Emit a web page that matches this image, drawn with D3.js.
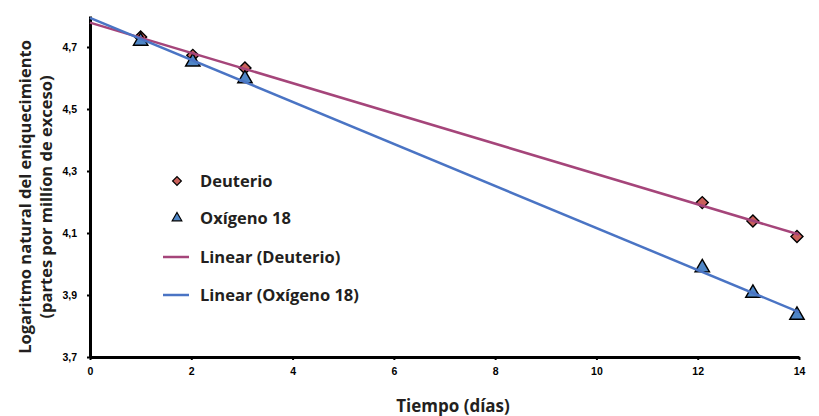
<!DOCTYPE html>
<html>
<head>
<meta charset="utf-8">
<script src="https://cdn.jsdelivr.net/npm/d3@7"></script>
<style>
  body { margin: 0; background: #fff; }
  text { fill: #231f20; }
  .tick-label { font-family: "Liberation Sans", Arial, sans-serif; font-weight: bold; font-size: 10.5px; fill: #000; }
  .title { font-family: "Open Sans", sans-serif; font-weight: 700; }
</style>
</head>
<body>
<div id="viz"></div>
<script>
// days of measurement
const dias = [1, 2.03, 3.06, 12.09, 13.09, 13.96];
// ln of enrichment, ppm excess
const deuterio = [4.732, 4.673, 4.632, 4.198, 4.139, 4.089];
const oxigeno18 = [4.719, 4.652, 4.598, 3.988, 3.906, 3.835];
const xTicks = [0, 2, 4, 6, 8, 10, 12, 14];
const yTicks = [3.7, 3.9, 4.1, 4.3, 4.5, 4.7];

/**
 * least squares fit, returns [slope, intercept]
 */
function linearFit(xs, ys) {
  const mx = d3.mean(xs);
  const my = d3.mean(ys);
  let sxy = 0, sxx = 0;
  xs.forEach((x, i) => {
    sxy += (x - mx) * (ys[i] - my);
    sxx += (x - mx) * (x - mx);
  });
  const slope = sxy / sxx;
  return [slope, my - slope * mx];
}

function createChart() {
  const width = 819;
  const height = 416;
  const left = 90, right = 799, top = 16, bottom = 357;

  const svg = d3.select("#viz")
    .append("svg")
    .attr("width", width)
    .attr("height", height);

  const x = d3.scaleLinear().domain([0, 14]).range([left, right]);
  const y = d3.scaleLinear().domain([3.7, 4.8]).range([bottom, top]);

  // x axis
  const xAxis = svg.append("g")
    .attr("transform", `translate(0,${bottom})`)
    .call(d3.axisBottom(x).tickValues(xTicks).tickSize(3).tickPadding(8).tickSizeOuter(0));
  xAxis.select(".domain").attr("stroke", "#000").attr("stroke-width", 3);
  xAxis.selectAll(".tick line").attr("stroke", "#000").attr("stroke-width", 2);
  xAxis.selectAll(".tick text").attr("class", "tick-label");

  // y axis
  const yAxis = svg.append("g")
    .attr("transform", `translate(${left},0)`)
    .call(d3.axisLeft(y).tickValues(yTicks).tickSize(3).tickPadding(10).tickSizeOuter(0)
      .tickFormat((d) => d3.format(".1f")(d).replace(".", ",")));
  yAxis.select(".domain").attr("stroke", "#000").attr("stroke-width", 3);
  yAxis.selectAll(".tick line").attr("stroke", "#000").attr("stroke-width", 2);
  yAxis.selectAll(".tick text").attr("class", "tick-label");

  const diamond = d3.symbol().type(d3.symbolSquare).size(72);
  const triangle = d3.symbol().type(d3.symbolTriangle).size(90);

  // markers
  svg.selectAll("path.deut")
    .data(dias)
    .enter()
    .append("path")
    .classed("deut", true)
    .attr("d", diamond)
    .attr("transform", (d, i) => `translate(${x(d)},${y(deuterio[i])}) rotate(45)`)
    .attr("fill", "#c9605a")
    .attr("stroke", "#000")
    .attr("stroke-width", 1.4);

  svg.selectAll("path.oxi")
    .data(dias)
    .enter()
    .append("path")
    .classed("oxi", true)
    .attr("d", triangle)
    .attr("transform", (d, i) => `translate(${x(d)},${y(oxigeno18[i])})`)
    .attr("fill", "#4f86c6")
    .attr("stroke", "#000")
    .attr("stroke-width", 1.4);

  // trend lines
  const fits = [
    { ys: deuterio, color: "#a5457a" },
    { ys: oxigeno18, color: "#4a74c4" },
  ];
  fits.forEach((f) => {
    const [m, b] = linearFit(dias, f.ys);
    svg.append("line")
      .attr("x1", x(0))
      .attr("y1", y(b))
      .attr("x2", x(14))
      .attr("y2", y(b + m * 14))
      .attr("stroke", f.color)
      .attr("stroke-width", 2.5);
  });

  // legend
  const legend = svg.append("g").attr("class", "title").style("font-size", "16.5px");
  legend.append("path").attr("d", d3.symbol().type(d3.symbolSquare).size(38))
    .attr("transform", "translate(177,181) rotate(45)")
    .attr("fill", "#c9605a").attr("stroke", "#000").attr("stroke-width", 1.2);
  legend.append("text").attr("x", 200).attr("y", 187).text("Deuterio");
  legend.append("path").attr("d", d3.symbol().type(d3.symbolTriangle).size(40))
    .attr("transform", "translate(177,218)")
    .attr("fill", "#4f86c6").attr("stroke", "#000").attr("stroke-width", 1.2);
  legend.append("text").attr("x", 200).attr("y", 224).text("Oxígeno 18");
  legend.append("line").attr("x1", 163).attr("x2", 189).attr("y1", 257).attr("y2", 257)
    .attr("stroke", "#a5457a").attr("stroke-width", 2.5);
  legend.append("text").attr("x", 200).attr("y", 263).text("Linear (Deuterio)");
  legend.append("line").attr("x1", 163).attr("x2", 189).attr("y1", 295).attr("y2", 295)
    .attr("stroke", "#4a74c4").attr("stroke-width", 2.5);
  legend.append("text").attr("x", 200).attr("y", 301).text("Linear (Oxígeno 18)");

  // axis titles
  svg.append("text")
    .attr("class", "title")
    .attr("x", 453)
    .attr("y", 412)
    .attr("text-anchor", "middle")
    .style("font-size", "17px")
    .text("Tiempo (días)");

  const yTitle = svg.append("text")
    .attr("class", "title")
    .attr("transform", "translate(0,197) rotate(-90)")
    .attr("text-anchor", "middle")
    .style("font-size", "16.5px");
  yTitle.append("tspan").attr("x", 0).attr("y", 31).text("Logaritmo natural del eniquecimiento");
  yTitle.append("tspan").attr("x", 0).attr("y", 52).text("(partes por millíon de exceso)");
}

createChart();
</script>
</body>
</html>
